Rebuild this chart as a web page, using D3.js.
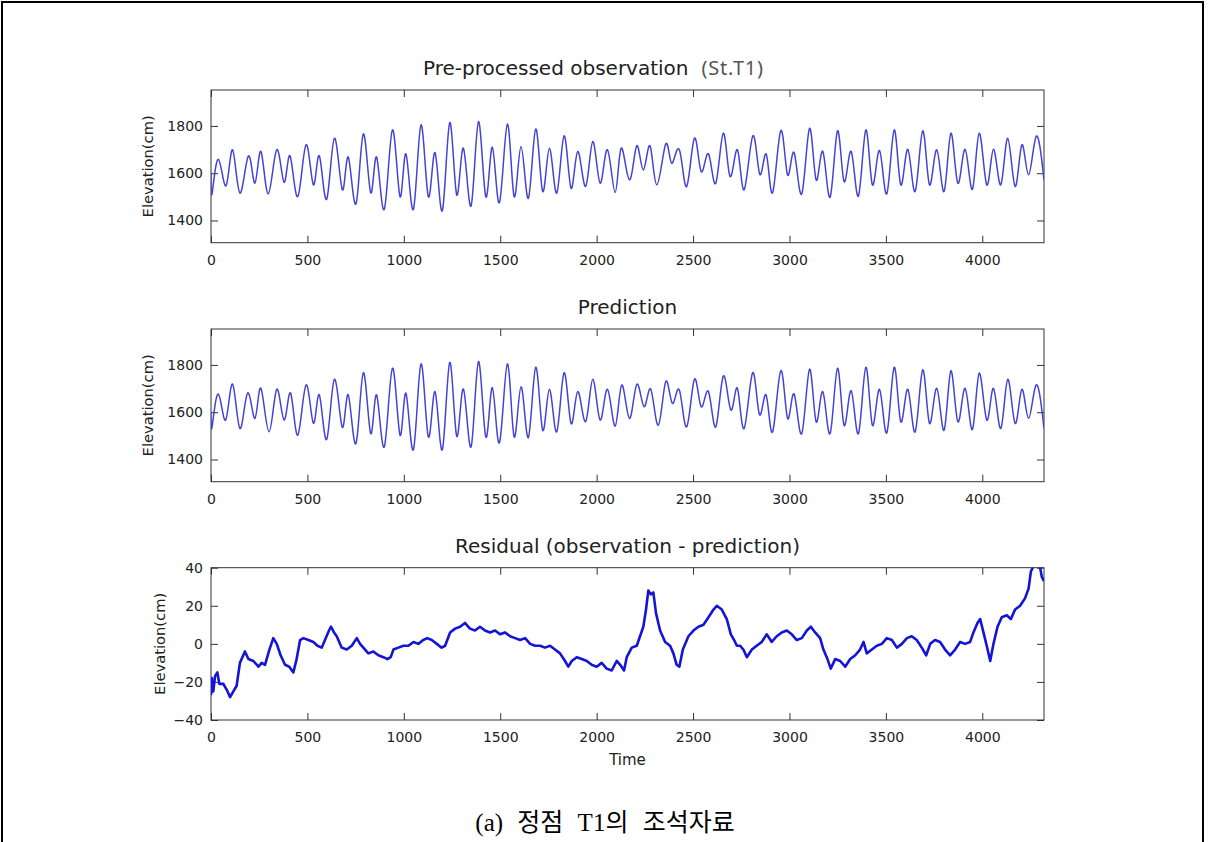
<!DOCTYPE html>
<html>
<head>
<meta charset="utf-8">
<script src="https://cdn.jsdelivr.net/npm/d3@7"></script>
<style>
  html, body { margin: 0; padding: 0; background: #fff; }
  svg { display: block; }
</style>
</head>
<body>
<svg id="fig" width="1213" height="842"></svg>
<script>
// ---- data -------------------------------------------------------------
// time axis (hours) and tick labels
const timeTicks = [0, 500, 1000, 1500, 2000, 2500, 3000, 3500, 4000];
const timeExtent = [0, 4320];
const elevationTicks = [1400, 1600, 1800];
const elevationExtent = [1306, 1952];
const residualTicks = [-40, -20, 0, 20, 40];
const residualExtent = [-40, 40];

// observed tide, St.T1: successive highs and lows [time, elevation cm]
const observed = [
  [0,1600],[6,1516],[38,1659],[78,1547],[112,1699],[150,1516],[194,1673],[228,1558],
  [259,1692],[297,1513],[341,1699],[379,1561],[410,1673],[450,1501],[493,1720],[531,1551],
  [562,1673],[600,1490],[640,1748],[681,1530],[712,1668],[752,1471],[790,1766],[828,1518],
  [859,1668],[899,1448],[941,1783],[980,1501],[1011,1682],[1050,1448],[1089,1804],[1127,1501],
  [1162,1687],[1200,1442],[1238,1814],[1274,1509],[1309,1706],[1349,1462],[1387,1818],[1425,1501],
  [1459,1710],[1496,1476],[1537,1808],[1572,1501],[1608,1713],[1646,1494],[1684,1787],[1720,1523],
  [1755,1706],[1793,1516],[1831,1758],[1867,1537],[1902,1692],[1943,1544],[1980,1734],[2018,1558],
  [2056,1699],[2096,1518],[2127,1706],[2170,1572],[2208,1716],[2242,1614],[2277,1716],[2312,1551],
  [2358,1723],[2389,1642],[2429,1699],[2467,1544],[2507,1748],[2542,1607],[2580,1682],[2618,1558],
  [2657,1769],[2692,1586],[2730,1699],[2765,1530],[2810,1758],[2846,1595],[2880,1680],[2913,1518],
  [2955,1780],[2990,1593],[3024,1687],[3064,1513],[3104,1790],[3138,1572],[3173,1692],[3211,1499],
  [3249,1779],[3283,1565],[3320,1692],[3358,1504],[3396,1783],[3430,1551],[3467,1696],[3505,1513],
  [3543,1783],[3577,1551],[3614,1701],[3652,1523],[3691,1779],[3726,1551],[3764,1699],[3802,1523],
  [3837,1769],[3873,1558],[3911,1701],[3949,1532],[3984,1769],[4023,1551],[4058,1701],[4096,1551],
  [4132,1748],[4170,1544],[4205,1720],[4240,1593],[4279,1755],[4320,1572]
];

// harmonic prediction: successive highs and lows [time, elevation cm]
const predicted = [
  [0,1600],[6,1540],[38,1677],[76,1567],[112,1719],[150,1531],[190,1681],[228,1574],
  [259,1701],[301,1517],[341,1697],[379,1567],[413,1681],[450,1503],[493,1715],[531,1553],
  [562,1673],[600,1485],[640,1739],[681,1536],[712,1673],[752,1468],[790,1767],[828,1510],
  [859,1673],[899,1454],[941,1786],[980,1503],[1011,1680],[1050,1442],[1089,1804],[1127,1496],
  [1162,1687],[1200,1442],[1238,1810],[1274,1499],[1309,1698],[1349,1454],[1387,1814],[1425,1496],
  [1459,1704],[1496,1471],[1537,1804],[1572,1496],[1608,1708],[1646,1493],[1684,1790],[1720,1524],
  [1755,1697],[1793,1517],[1831,1767],[1867,1553],[1902,1687],[1943,1560],[1980,1739],[2018,1567],
  [2056,1697],[2096,1541],[2130,1715],[2170,1574],[2208,1718],[2246,1623],[2281,1697],[2320,1545],
  [2358,1729],[2393,1637],[2429,1694],[2467,1538],[2507,1739],[2542,1623],[2580,1687],[2618,1538],
  [2657,1753],[2696,1609],[2730,1701],[2765,1531],[2809,1767],[2844,1590],[2879,1673],[2913,1517],
  [2955,1776],[2990,1574],[3024,1677],[3064,1510],[3104,1782],[3138,1560],[3173,1687],[3211,1510],
  [3249,1786],[3283,1545],[3320,1691],[3358,1510],[3396,1790],[3430,1545],[3467,1697],[3505,1513],
  [3543,1790],[3577,1560],[3614,1697],[3652,1517],[3691,1779],[3726,1553],[3764,1701],[3802,1524],
  [3837,1775],[3873,1560],[3911,1701],[3949,1527],[3984,1765],[4023,1567],[4058,1701],[4096,1531],
  [4132,1739],[4170,1553],[4205,1697],[4240,1574],[4279,1715],[4320,1531]
];

// residual (observation - prediction) [time, cm]
const residual = [
  [0,-27],[4,-18],[12,-25],[21,-17],[33,-15],[43,-21],[64,-21],[81,-24],[99,-28],[116,-25],
  [133,-22],[150,-10],[176,-4],[194,-8],[220,-9],[246,-12],[263,-10],[280,-11],[303,-3],[323,3],
  [341,0],[361,-6],[384,-11],[406,-12],[427,-15],[444,-8],[462,2],[479,3],[505,2],[531,1],
  [552,-1],[574,-2],[591,2],[612,7],[622,9],[638,6],[652,4],[678,-2],[704,-3],[730,-1],
  [756,3],[773,0],[790,-2],[816,-5],[842,-4],[868,-6],[894,-7],[915,-8],[932,-7],[946,-3],
  [972,-2],[998,-1],[1024,-1],[1050,1],[1075,0],[1101,2],[1122,3],[1145,2],[1171,0],[1196,-2],
  [1214,-1],[1240,6],[1266,8],[1292,9],[1317,11],[1343,8],[1369,7],[1395,9],[1421,7],[1447,6],
  [1473,7],[1499,5],[1525,6],[1551,4],[1577,3],[1603,2],[1629,3],[1655,0],[1681,-1],[1707,-1],
  [1732,-2],[1758,-1],[1784,-3],[1810,-5],[1836,-9],[1853,-12],[1871,-9],[1897,-7],[1923,-8],[1949,-9],
  [1974,-11],[2000,-12],[2026,-10],[2052,-13],[2078,-14],[2104,-9],[2122,-11],[2142,-14],[2156,-7],[2182,-2],
  [2208,-1],[2225,4],[2242,9],[2256,18],[2268,28],[2281,26],[2294,27],[2308,16],[2329,7],[2355,1],
  [2381,-1],[2398,-5],[2415,-11],[2429,-12],[2447,-3],[2476,4],[2502,7],[2528,9],[2554,10],[2580,14],
  [2606,18],[2623,20],[2649,18],[2675,13],[2696,5],[2713,2],[2727,-1],[2744,-1],[2761,-3],[2779,-7],
  [2805,-3],[2830,-1],[2856,1],[2882,5],[2908,1],[2934,4],[2960,6],[2986,7],[3012,5],[3038,2],
  [3064,3],[3090,7],[3111,9],[3133,6],[3159,3],[3176,-3],[3197,-8],[3214,-13],[3237,-8],[3263,-9],
  [3289,-12],[3315,-8],[3341,-6],[3366,-3],[3384,1],[3401,-5],[3427,-3],[3453,-1],[3479,0],[3505,3],
  [3531,2],[3557,-2],[3583,0],[3609,3],[3634,4],[3660,2],[3686,-2],[3709,-6],[3730,0],[3755,2],
  [3781,1],[3807,-3],[3833,-6],[3859,-3],[3885,1],[3911,0],[3937,1],[3954,6],[3975,11],[3989,13],
  [4006,6],[4023,-1],[4041,-9],[4058,0],[4079,9],[4101,14],[4127,15],[4148,13],[4170,18],[4196,20],
  [4222,24],[4240,29],[4252,38],[4266,41],[4285,42],[4300,40],[4309,35],[4320,33]
];

// ---- layout -----------------------------------------------------------
const W = 1213, H = 842;
const left = 211, right = 1044;
const FONT = "'DejaVu Sans', Verdana, sans-serif";
const INK = "#222";
const fmt = d3.format("d");

const svg = d3.select("#fig");
svg.append("rect").attr("width", W).attr("height", H).attr("fill", "#fff");

// figure frame
svg.append("path")
  .attr("d", "M2,842V2H1203V842")
  .attr("fill", "none").attr("stroke", "#000").attr("stroke-width", 2);

const x = d3.scaleLinear().domain(timeExtent).range([left, right]);

const panels = [
  { id: "obs",  top: 90,    bottom: 242.7, domain: elevationExtent, ticks: elevationTicks,
    data: observed,  curve: d3.curveNatural, color: "#4343d6", width: 1.5, labelX: 153 },
  { id: "pred", top: 329,   bottom: 481.7, domain: elevationExtent, ticks: elevationTicks,
    data: predicted, curve: d3.curveNatural, color: "#4343d6", width: 1.5, labelX: 153 },
  { id: "res",  top: 567.7, bottom: 720,   domain: residualExtent,  ticks: residualTicks,
    data: residual,  curve: d3.curveLinear,  color: "#1414d6", width: 2.6, labelX: 165 }
];

function styleAxis(g, showText) {
  g.select(".domain").remove();
  g.selectAll(".tick line").attr("stroke", "#333");
  g.attr("font-family", FONT).attr("font-size", 14);
  g.selectAll("text").attr("fill", INK);
  if (!showText) g.selectAll("text").remove();
}

panels.forEach(p => {
  const y = d3.scaleLinear().domain(p.domain).range([p.bottom, p.top]);
  const g = svg.append("g");

  g.append("clipPath").attr("id", "clip-" + p.id)
    .append("rect").attr("x", left).attr("y", p.top)
    .attr("width", right - left).attr("height", p.bottom - p.top);

  g.append("g").attr("transform", `translate(0,${p.bottom})`)
    .call(d3.axisBottom(x).tickValues(timeTicks).tickFormat(fmt)
      .tickSize(-7).tickSizeOuter(0).tickPadding(12))
    .call(a => styleAxis(a, true));
  g.append("g").attr("transform", `translate(0,${p.top})`)
    .call(d3.axisTop(x).tickValues(timeTicks).tickSize(-7).tickSizeOuter(0))
    .call(a => styleAxis(a, false));
  g.append("g").attr("transform", `translate(${left},0)`)
    .call(d3.axisLeft(y).tickValues(p.ticks).tickFormat(fmt)
      .tickSize(-7).tickSizeOuter(0).tickPadding(8))
    .call(a => styleAxis(a, true));
  g.append("g").attr("transform", `translate(${right},0)`)
    .call(d3.axisRight(y).tickValues(p.ticks).tickSize(-7).tickSizeOuter(0))
    .call(a => styleAxis(a, false));

  g.append("rect")
    .attr("x", left).attr("y", p.top)
    .attr("width", right - left).attr("height", p.bottom - p.top)
    .attr("fill", "none").attr("stroke", "#333").attr("stroke-width", 1);

  const line = d3.line()
    .x(d => x(d[0])).y(d => y(d[1]))
    .curve(p.curve);

  g.append("path")
    .datum(p.data)
    .attr("clip-path", `url(#clip-${p.id})`)
    .attr("d", line)
    .attr("fill", "none")
    .attr("stroke", p.color)
    .attr("stroke-width", p.width)
    .attr("stroke-linejoin", "round");

  g.append("text")
    .attr("transform", `translate(${p.labelX},${(p.top + p.bottom) / 2}) rotate(-90)`)
    .attr("text-anchor", "middle")
    .attr("font-family", FONT).attr("font-size", 14.7).attr("fill", INK)
    .text("Elevation(cm)");
});

// panel titles
const t1 = svg.append("text")
  .attr("x", 423).attr("y", 75)
  .attr("font-family", FONT).attr("font-size", 20).attr("fill", INK);
t1.append("tspan").text("Pre-processed observation");
t1.append("tspan").attr("dx", 13)
  .attr("font-family", "'Noto Sans', 'Open Sans', sans-serif").attr("fill", "#555")
  .attr("letter-spacing", 0.8)
  .text("(St.T1)");

svg.append("text")
  .attr("x", (left + right) / 2).attr("y", 314).attr("text-anchor", "middle")
  .attr("font-family", FONT).attr("font-size", 20).attr("fill", INK)
  .text("Prediction");

svg.append("text")
  .attr("x", (left + right) / 2).attr("y", 553).attr("text-anchor", "middle")
  .attr("font-family", FONT).attr("font-size", 20).attr("fill", INK)
  .text("Residual (observation - prediction)");

svg.append("text")
  .attr("x", (left + right) / 2).attr("y", 765).attr("text-anchor", "middle")
  .attr("font-family", FONT).attr("font-size", 15).attr("fill", INK)
  .text("Time");

// figure caption
svg.append("text")
  .attr("x", 605).attr("y", 831).attr("text-anchor", "middle")
  .attr("font-family", "'Liberation Serif', 'Noto Sans CJK KR', serif")
  .attr("font-size", 25).attr("fill", "#000")
  .attr("word-spacing", 8)
  .text("(a) 정점 T1의 조석자료");
</script>
</body>
</html>
